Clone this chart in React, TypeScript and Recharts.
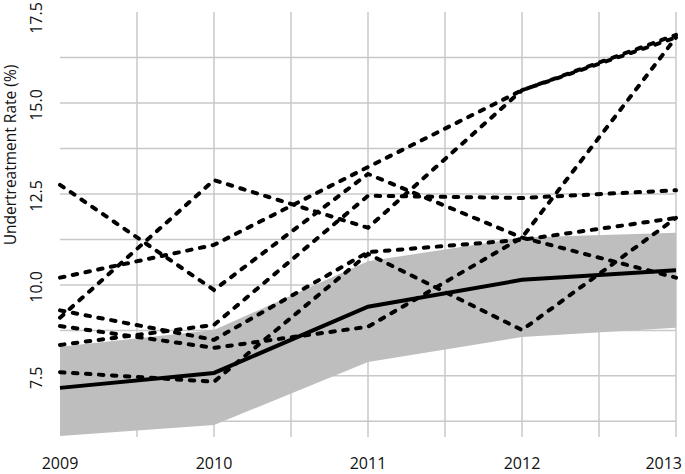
import {
  ComposedChart,
  Area,
  Line,
  XAxis,
  YAxis,
  CartesianGrid,
  Label,
} from "recharts";

const years = [2009, 2010, 2011, 2012, 2013];

// individual trajectories (dashed)
const seriesA = [12.75, 9.86, 13.05, 11.3, 10.2];
const seriesB = [10.2, 11.1, 13.24, 15.35, 16.87];
const seriesC = [9.1, 12.88, 11.57, 15.35, 16.8];
const seriesD = [9.3, 8.49, 10.9, 11.24, 11.84];
const seriesE = [8.87, 8.27, 8.85, 11.3, 16.8];
const seriesF = [8.35, 8.9, 12.45, 12.39, 12.6];
const seriesG = [7.6, 7.34, 10.85, 8.76, 11.84];

// overall rate and its band
const meanRate = [7.17, 7.58, 9.4, 10.14, 10.4];
const bandLow = [5.85, 6.15, 7.88, 8.57, 8.82];
const bandHigh = [8.3, 8.76, 10.65, 11.3, 11.43];

const yTicks = [7.5, 10, 12.5, 15, 17.5];
const xGrid = [2009.5, 2010, 2010.5, 2011, 2011.5, 2012, 2012.5, 2013];
const yGrid = [6.25, 7.5, 8.75, 10, 11.25, 12.5, 13.75, 15, 16.25];

const dashed = [seriesA, seriesB, seriesC, seriesD, seriesE, seriesF, seriesG];

const data = years.map((year, i) => {
  const row: Record<string, any> = {
    year,
    band: [bandLow[i], bandHigh[i]],
    mean: meanRate[i],
  };
  dashed.forEach((s, k) => {
    row["s" + k] = s[i];
  });
  return row;
});

const font = "'Open Sans', 'Noto Sans', sans-serif";

const XTick = (props: any) => {
  const { x, payload, index } = props;
  const last = index === years.length - 1;
  return (
    <text
      x={last ? x + 6 : x}
      y={469}
      textAnchor={last ? "end" : "middle"}
      fontFamily={font}
      fontSize={16}
      fill="#111"
    >
      {payload.value}
    </text>
  );
};

const YTick = (props: any) => {
  const { y, payload } = props;
  // keep the top label inside the page
  const cy = Math.max(y + 2, 18);
  return (
    <text
      transform={`translate(42, ${cy}) rotate(-90)`}
      textAnchor="middle"
      fontFamily={font}
      fontSize={16}
      fill="#111"
    >
      {payload.value.toFixed(1)}
    </text>
  );
};

export default function App() {
  return (
    <div style={{ position: "absolute", left: 0, top: 0, background: "#fff" }}>
      <ComposedChart
        width={685}
        height={474}
        data={data}
        margin={{ top: 12, right: 9, left: 0, bottom: 0 }}
      >
        <CartesianGrid
          stroke="#c8c8c8"
          strokeWidth={1.5}
          verticalValues={xGrid}
          horizontalValues={yGrid}
        />
        <XAxis
          dataKey="year"
          type="number"
          domain={[2009, 2013]}
          ticks={years}
          axisLine={false}
          tickLine={false}
          height={37}
          tick={<XTick />}
          interval={0}
        />
        <YAxis
          type="number"
          domain={[5.82, 17.5]}
          ticks={yTicks}
          allowDataOverflow
          axisLine={false}
          tickLine={false}
          width={60}
          tick={<YTick />}
          interval={0}
        >
          <Label
            content={() => (
              <text
                transform="translate(15.5, 155) rotate(-90)"
                textAnchor="middle"
                fontFamily={font}
                fontSize={15.5}
                fill="#111"
              >
                Undertreatment Rate (%)
              </text>
            )}
          />
        </YAxis>
        <Area
          dataKey="band"
          type="linear"
          stroke="none"
          fill="#bebebe"
          fillOpacity={1}
          isAnimationActive={false}
          activeDot={false}
        />
        {dashed.map((_, k) => (
          <Line
            key={k}
            dataKey={"s" + k}
            type="linear"
            stroke="#000"
            strokeWidth={4}
            strokeDasharray="4.5 8.5"
            strokeLinecap="round"
            dot={false}
            activeDot={false}
            isAnimationActive={false}
          />
        ))}
        <Line
          dataKey="mean"
          type="linear"
          stroke="#000"
          strokeWidth={4}
          dot={false}
          activeDot={false}
          isAnimationActive={false}
        />
      </ComposedChart>
    </div>
  );
}
